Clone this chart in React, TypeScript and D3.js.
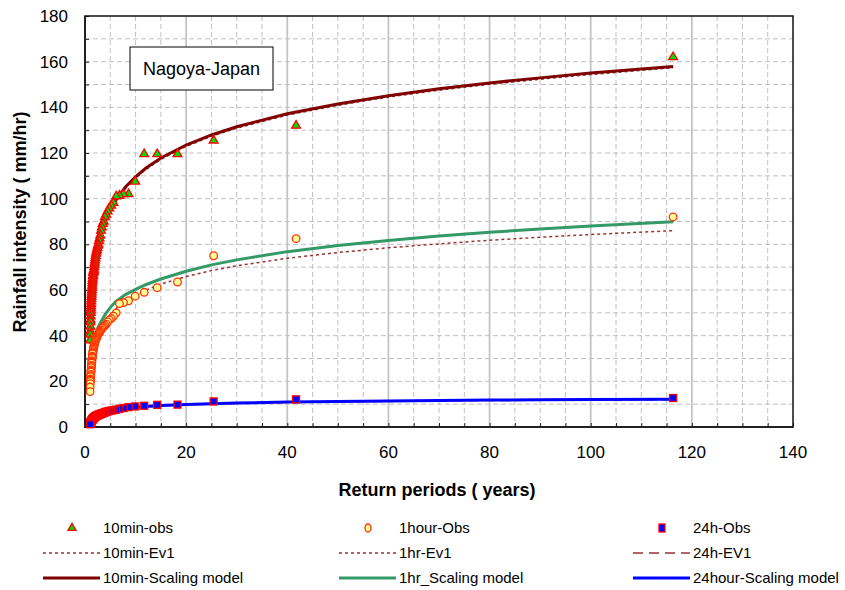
import * as d3 from "d3";
import { useEffect, useRef } from "react";

// Gringorten return periods of the 65 ranked annual maxima
const returnPeriods = [
  116.29, 41.74, 25.44, 18.29, 14.28, 11.71, 9.93, 8.61, 7.61, 6.81,
  6.17, 5.63, 5.18, 4.8, 4.47, 4.19, 3.93, 3.71, 3.51, 3.33,
  3.17, 3.02, 2.89, 2.76, 2.65, 2.55, 2.45, 2.36, 2.28, 2.2,
  2.13, 2.06, 2.0, 1.94, 1.88, 1.83, 1.78, 1.73, 1.69, 1.65,
  1.61, 1.57, 1.53, 1.49, 1.46, 1.43, 1.4, 1.37, 1.34, 1.31,
  1.29, 1.26, 1.24, 1.22, 1.19, 1.17, 1.15, 1.13, 1.11, 1.09,
  1.08, 1.06, 1.04, 1.02, 1.01,
];

const obs10min = [
  162, 132, 125.5, 119.5, 119.5, 119.5, 107.5, 102, 102, 101.3,
  101, 98.2, 97, 95.8, 94.5, 93, 92, 90, 89, 87.5,
  86, 84, 82.7, 81.5, 80, 79.5, 78.5, 77.5, 76.8, 76,
  75, 74, 73, 72, 71, 70, 69, 68.5, 68, 67.5,
  66.5, 66, 65, 64, 63, 62, 61, 60, 59, 58,
  57, 56, 55, 54, 53, 52, 51, 50, 48.5, 47,
  46, 44, 42, 40.5, 38,
];

const obs1hour = [
  92, 82.5, 75, 63.5, 61, 59, 57.3, 55.3, 54.5, 54,
  50, 48.5, 47.5, 46.9, 46, 45, 44.5, 44, 43.5, 43.2,
  42.5, 42, 41.5, 41.2, 41, 40.5, 40, 39.5, 39, 38.7,
  38.3, 38, 37.5, 37, 36.5, 36, 35.5, 35, 34.5, 34,
  33.5, 33, 32.5, 32, 31, 30.5, 30, 29, 28.5, 28,
  27, 26.5, 26, 25, 24.5, 24, 23, 22.5, 22, 21,
  20.5, 20, 19, 17.5, 15.5,
];

const obs24h = [
  12.7, 12.1, 11.2, 9.8, 9.7, 9.3, 9.0, 8.7, 8.3, 8.0,
  7.6, 7.4, 7.2, 7.0, 6.8, 6.6, 6.4, 6.2, 6.0, 5.9,
  5.8, 5.6, 5.5, 5.4, 5.3, 5.2, 5.1, 5.0, 4.9, 4.8,
  4.7, 4.6, 4.5, 4.4, 4.3, 4.2, 4.1, 4.0, 3.9, 3.8,
  3.7, 3.6, 3.5, 3.4, 3.3, 3.2, 3.1, 3.0, 2.9, 2.8,
  2.7, 2.6, 2.5, 2.4, 2.3, 2.2, 2.1, 2.0, 1.9, 1.8,
  1.7, 1.6, 1.5, 1.4, 1.2,
];

// model curves
const curveT = [
  1.01, 1.05, 1.1, 1.2, 1.3, 1.5, 1.75, 2, 2.5, 3, 4, 5, 6, 8, 10, 12, 15,
  20, 25, 30, 40, 50, 60, 70, 80, 90, 100, 116.3,
];
const ev1_10min = [
  36.2, 44.2, 48.8, 54.4, 58.3, 63.9, 68.9, 72.8, 78.7, 83.1, 89.6, 94.5,
  98.4, 104.5, 109.0, 112.7, 117.2, 122.9, 127.3, 130.9, 136.6, 140.9, 144.5,
  147.5, 150.1, 152.3, 154.4, 157.3,
];
const ev1_1hr = [
  15.2, 19.8, 22.5, 25.8, 28.1, 31.3, 34.3, 36.5, 40.0, 42.6, 46.5, 49.3,
  51.6, 55.1, 57.8, 59.9, 62.6, 65.9, 68.5, 70.6, 73.9, 76.4, 78.5, 80.2,
  81.8, 83.1, 84.3, 86.0,
];
const ev1_24h = [
  2.3, 3.1, 3.6, 4.1, 4.5, 5.0, 5.4, 5.7, 6.1, 6.4, 6.8, 7.2, 7.5, 8.0, 8.4,
  8.8, 9.2, 9.7, 10.0, 10.3, 10.7, 11.0, 11.2, 11.4, 11.6, 11.7, 11.8, 12.0,
];
const scaling10min = [
  36.7, 44.7, 49.3, 54.9, 58.8, 64.4, 69.4, 73.3, 79.2, 83.6, 90.2, 95.1,
  99.0, 105.1, 109.6, 113.3, 117.8, 123.5, 127.9, 131.5, 137.2, 141.5, 145.1,
  148.1, 150.7, 152.9, 155.0, 157.9,
];
const scaling1hr = [
  15, 20, 24, 28, 31, 35, 38, 40, 43.3, 45.5, 49.3, 52.3, 54.8, 58, 60.3,
  62.3, 64.8, 68.2, 71, 73.2, 76.8, 79.5, 81.7, 83.6, 85.3, 86.7, 88, 89.9,
];
const scaling24h = [
  2.5, 3.3, 3.8, 4.3, 4.7, 5.2, 5.6, 5.9, 6.3, 6.6, 7.0, 7.4, 7.7, 8.2, 8.6,
  9.0, 9.4, 9.9, 10.2, 10.5, 10.9, 11.2, 11.4, 11.6, 11.8, 11.9, 12.0, 12.2,
];

const xTicks = [0, 20, 40, 60, 80, 100, 120, 140];
const yTicks = [0, 20, 40, 60, 80, 100, 120, 140, 160, 180];

const legendLabels = [
  "10min-obs", "1hour-Obs", "24h-Obs",
  "10min-Ev1", "1hr-Ev1", "24h-EV1",
  "10min-Scaling model", "1hr_Scaling model", "24hour-Scaling model",
];

const FONT = "Arial, 'Liberation Sans', sans-serif";

const App = () => {
  const ref = useRef<SVGSVGElement>(null);

  useEffect(() => {
    const svg = d3.select(ref.current);
    svg.selectAll("*").remove();

    const left = 85, right = 793, top = 16, bottom = 427;
    const x = d3.scaleLinear().domain([0, 140]).range([left, right]);
    const y = d3.scaleLinear().domain([0, 180]).range([bottom, top]);

    svg.append("rect").attr("width", 845).attr("height", 590).attr("fill", "#fff");

    // grid
    const grid = svg.append("g");
    grid
      .selectAll("line.h")
      .data(d3.range(10, 180, 10))
      .enter()
      .append("line")
      .attr("x1", left)
      .attr("x2", right)
      .attr("y1", (d) => y(d))
      .attr("y2", (d) => y(d))
      .attr("stroke", "#c0c0c0")
      .attr("stroke-dasharray", "5,3");
    grid
      .selectAll("line.v")
      .data(d3.range(5, 140, 5))
      .enter()
      .append("line")
      .attr("x1", (d) => x(d))
      .attr("x2", (d) => x(d))
      .attr("y1", top)
      .attr("y2", bottom)
      .attr("stroke", (d) => (d % 20 === 0 ? "#c4c4c4" : "#c0c0c0"))
      .attr("stroke-width", (d) => (d % 20 === 0 ? 1.8 : 1))
      .attr("stroke-dasharray", (d) => (d % 20 === 0 ? null : "5,3"));

    // inward ticks
    svg
      .append("g")
      .attr("transform", `translate(0,${bottom})`)
      .call(d3.axisBottom(x).tickValues(d3.range(0, 141, 5)).tickSize(-4).tickFormat(() => ""))
      .call((g) => g.select(".domain").remove())
      .selectAll("line")
      .attr("stroke", "#222");
    svg
      .append("g")
      .attr("transform", `translate(${left},0)`)
      .call(d3.axisLeft(y).tickValues(d3.range(0, 181, 10)).tickSize(-4).tickFormat(() => ""))
      .call((g) => g.select(".domain").remove())
      .selectAll("line")
      .attr("stroke", "#222");

    // frame
    svg
      .append("rect")
      .attr("x", left)
      .attr("y", top)
      .attr("width", right - left)
      .attr("height", bottom - top)
      .attr("fill", "none")
      .attr("stroke", "#111")
      .attr("stroke-width", 1.5);
    svg
      .append("path")
      .attr("d", `M${left},${top}V${bottom}H${right}`)
      .attr("fill", "none")
      .attr("stroke", "#222")
      .attr("stroke-width", 2);

    // tick labels
    svg
      .append("g")
      .selectAll("text")
      .data(xTicks)
      .enter()
      .append("text")
      .attr("x", (d) => x(d))
      .attr("y", 458)
      .attr("text-anchor", "middle")
      .attr("font-family", FONT)
      .attr("font-size", 17)
      .text((d) => d);
    svg
      .append("g")
      .selectAll("text")
      .data(yTicks)
      .enter()
      .append("text")
      .attr("x", 68)
      .attr("y", (d) => y(d))
      .attr("dy", "0.36em")
      .attr("text-anchor", "end")
      .attr("font-family", FONT)
      .attr("font-size", 17)
      .text((d) => d);

    // axis titles
    svg
      .append("text")
      .attr("x", 437)
      .attr("y", 496)
      .attr("text-anchor", "middle")
      .attr("font-family", FONT)
      .attr("font-weight", "bold")
      .attr("font-size", 18)
      .text("Return periods ( years)");
    svg
      .append("text")
      .attr("transform", "translate(26,222) rotate(-90)")
      .attr("text-anchor", "middle")
      .attr("font-family", FONT)
      .attr("font-weight", "bold")
      .attr("font-size", 18)
      .text("Rainfall intensity ( mm/hr)");

    // title box
    svg
      .append("rect")
      .attr("x", 130)
      .attr("y", 47)
      .attr("width", 143)
      .attr("height", 43)
      .attr("fill", "#fff")
      .attr("stroke", "#000");
    svg
      .append("text")
      .attr("x", 201.5)
      .attr("y", 68.5)
      .attr("dy", "0.36em")
      .attr("text-anchor", "middle")
      .attr("font-family", FONT)
      .attr("font-size", 18)
      .text("Nagoya-Japan");

    // curves
    const line = d3
      .line<number>()
      .x((_, i) => x(curveT[i]))
      .y((d) => y(d));
    const curves = [
      { values: ev1_10min, color: "#993333", width: 1.5, dash: "3,3" },
      { values: ev1_1hr, color: "#993333", width: 1.5, dash: "3,3" },
      { values: ev1_24h, color: "#993333", width: 1.5, dash: "10,6" },
      { values: scaling10min, color: "#800000", width: 3, dash: null },
      { values: scaling1hr, color: "#339966", width: 3, dash: null },
      { values: scaling24h, color: "#0000ff", width: 3, dash: null },
    ];
    curves.forEach((c) => {
      svg
        .append("path")
        .attr("d", line(c.values))
        .attr("fill", "none")
        .attr("stroke", c.color)
        .attr("stroke-width", c.width)
        .attr("stroke-dasharray", c.dash);
    });

    // observation markers
    const tri = d3.symbol(d3.symbolTriangle, 34);
    svg
      .append("g")
      .selectAll("path")
      .data(obs10min)
      .enter()
      .append("path")
      .attr("d", tri)
      .attr("transform", (d, i) => `translate(${x(returnPeriods[i])},${y(d)})`)
      .attr("fill", "#00dd00")
      .attr("stroke", "#ff0000")
      .attr("stroke-width", 1.3);
    svg
      .append("g")
      .selectAll("circle")
      .data(obs1hour)
      .enter()
      .append("circle")
      .attr("cx", (d, i) => x(returnPeriods[i]))
      .attr("cy", (d) => y(d))
      .attr("r", 3.8)
      .attr("fill", "#ffff99")
      .attr("stroke", "#ff3300")
      .attr("stroke-width", 1.3);
    svg
      .append("g")
      .selectAll("rect")
      .data(obs24h)
      .enter()
      .append("rect")
      .attr("x", (d, i) => x(returnPeriods[i]) - 3.5)
      .attr("y", (d) => y(d) - 3.5)
      .attr("width", 7)
      .attr("height", 7)
      .attr("fill", "#0000ff")
      .attr("stroke", "#ff0000")
      .attr("stroke-width", 1.3);

    // legend
    const colX = [103, 399, 693];
    const rowY = [528, 553, 578];
    const legend = svg.append("g");
    legendLabels.forEach((label, i) => {
      const tx = colX[i % 3];
      const ty = rowY[Math.floor(i / 3)];
      legend
        .append("text")
        .attr("x", tx)
        .attr("y", ty)
        .attr("dy", "0.36em")
        .attr("font-family", FONT)
        .attr("font-size", 15)
        .text(label);
      const sx = tx - 31;
      if (i < 3) {
        if (i === 0) {
          legend
            .append("path")
            .attr("d", d3.symbol(d3.symbolTriangle, 28)())
            .attr("transform", `translate(${sx},${ty})`)
            .attr("fill", "#00dd00")
            .attr("stroke", "#ff0000")
            .attr("stroke-width", 1.3);
        } else if (i === 1) {
          legend
            .append("ellipse")
            .attr("cx", sx)
            .attr("cy", ty)
            .attr("rx", 3)
            .attr("ry", 4)
            .attr("fill", "#ffff99")
            .attr("stroke", "#ff3300")
            .attr("stroke-width", 1.3);
        } else {
          legend
            .append("rect")
            .attr("x", sx - 3)
            .attr("y", ty - 4)
            .attr("width", 6)
            .attr("height", 8)
            .attr("fill", "#0000ff")
            .attr("stroke", "#ff0000")
            .attr("stroke-width", 1.3);
        }
      } else {
        const c = curves[i - 3];
        legend
          .append("line")
          .attr("x1", tx - 60)
          .attr("x2", tx - 3)
          .attr("y1", ty)
          .attr("y2", ty)
          .attr("stroke", c.color)
          .attr("stroke-width", c.width)
          .attr("stroke-dasharray", c.dash);
      }
    });
  }, []);

  return (
    <svg
      ref={ref}
      width={845}
      height={590}
      style={{ position: "absolute", left: 0, top: 0 }}
    />
  );
};

export default App;
